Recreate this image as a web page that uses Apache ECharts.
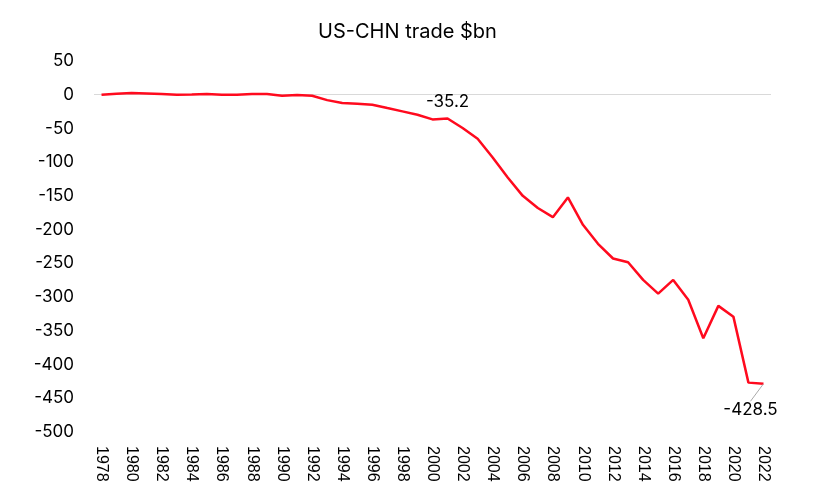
<!DOCTYPE html>
<html>
<head>
<meta charset="utf-8">
<script src="https://cdn.jsdelivr.net/npm/echarts@6/dist/echarts.min.js"></script>
<style>html,body{margin:0;padding:0;background:#fff;}#c{width:815px;height:495px;}</style>
</head>
<body>
<div id="c"></div>
<script>
const years = ["1978","1979","1980","1981","1982","1983","1984","1985","1986","1987","1988","1989","1990","1991","1992","1993","1994","1995","1996","1997","1998","1999","2000","2001","2002","2003","2004","2005","2006","2007","2008","2009","2010","2011","2012","2013","2014","2015","2016","2017","2018","2019","2020","2021","2022"];
const balance = [0,1.5,2.5,1.8,1,0,0.4,1,0,0,1,1,-1.5,-0.5,-1.5,-8,-12.4,-13.4,-14.8,-19.8,-24.7,-29.7,-36.6,-35.2,-49.4,-65.3,-93,-122.7,-149.9,-168,-181.5,-152.3,-192.9,-221,-242.8,-248.3,-274.5,-294.8,-274.5,-304,-361,-313,-329,-426.8,-428.5];

const chart = echarts.init(document.getElementById('c'));
const labelFont = {color: '#000', fontSize: 17, fontFamily: 'Inter, Liberation Sans, sans-serif'};
const lastIdx = years.length - 1;
const seriesData = balance.map((v, i) => {
  const y = years[i];
  if (y === "2001") {
    return {value: v, symbol: 'circle', symbolSize: 1, itemStyle: {color: 'rgba(0,0,0,0)'},
            label: Object.assign({show: true, position: 'top', distance: 8, formatter: String(v)}, labelFont)};
  }
  if (y === "2022") {
    return {value: v, symbol: 'circle', symbolSize: 1, itemStyle: {color: 'rgba(0,0,0,0)'},
            label: Object.assign({show: true, position: 'bottom', distance: 17, formatter: String(v)}, labelFont),
            labelLine: {show: true, lineStyle: {color: '#aaaaaa', width: 1}}};
  }
  return {value: v, symbol: 'none'};
});
chart.setOption({
  animation: false,
  title: {
    text: 'US-CHN trade $bn', left: 'center', top: 17,
    textStyle: {fontFamily: 'Inter, Liberation Sans, sans-serif', fontWeight: 'normal', fontSize: 20, color: '#000'}
  },
  grid: {left: 94, right: 44, top: 61, bottom: 63},
  xAxis: {
    type: 'category', data: years, boundaryGap: true,
    axisLine: {show: false}, axisTick: {show: false},
    axisLabel: {interval: 1, rotate: -90, color: '#000', fontSize: 16, fontFamily: 'Liberation Sans, Arial, sans-serif', margin: 14}
  },
  yAxis: {
    type: 'value', min: -500, max: 50, interval: 50,
    axisLine: {show: false}, axisTick: {show: false}, splitLine: {show: false},
    axisLabel: {color: '#000', fontSize: 17, fontFamily: 'Inter, Liberation Sans, sans-serif', margin: 20}
  },
  series: [{
    type: 'line', data: [], symbol: 'none', silent: true, z: 1,
    markLine: {
      silent: true, symbol: 'none', label: {show: false}, z: 1,
      lineStyle: {color: '#d9d9d9', width: 1, type: 'solid'},
      data: [{yAxis: 0}]
    }
  }, {
    type: 'line', data: seriesData, showSymbol: true, showAllSymbol: true,
    lineStyle: {color: '#ff0a1e', width: 2.5},
    itemStyle: {color: '#ff0a1e'},
    labelLayout: function (p) {
      if (p.dataIndex === lastIdx) return {dx: -13};
      return {};
    },
    z: 3
  }]
});
</script>
</body>
</html>
